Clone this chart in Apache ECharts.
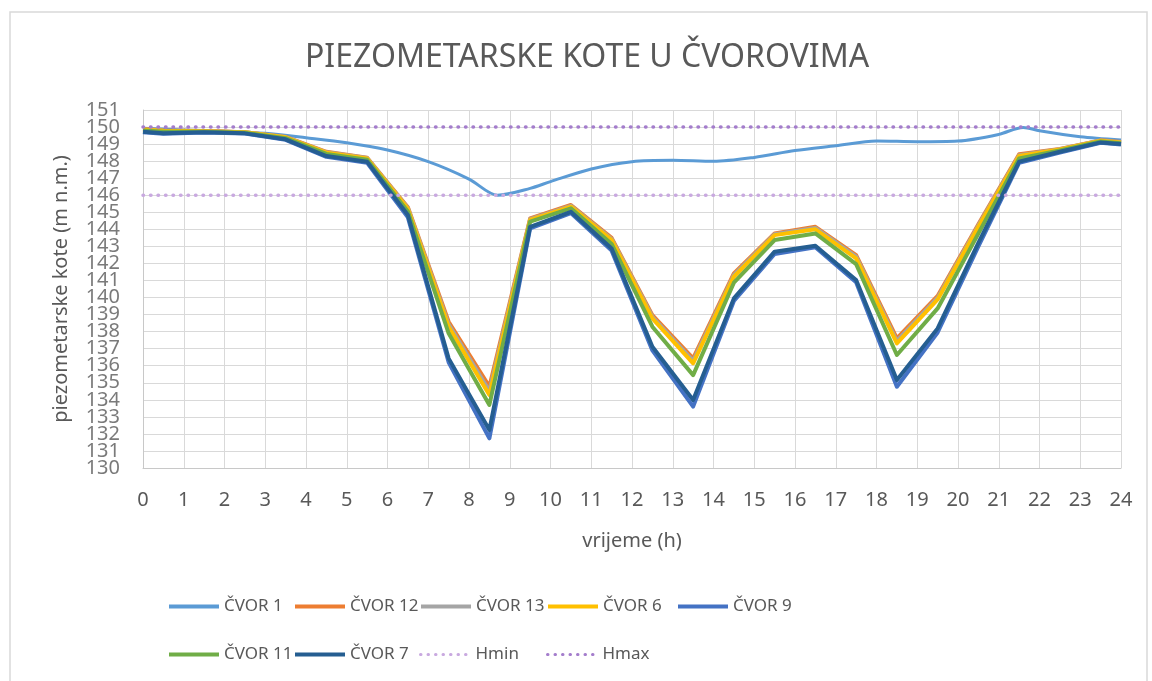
<!DOCTYPE html>
<html>
<head>
<meta charset="utf-8">
<title>Piezometarske kote</title>
<script src="https://cdn.jsdelivr.net/npm/echarts@6/dist/echarts.min.js"></script>
<style>
  html, body { margin: 0; padding: 0; background: #fff; }
  #chart { width: 1152px; height: 681px; }
</style>
</head>
<body>
<div id="chart"></div>
<script>
// vrijeme (h) za čvorove
var hours = [0, 0.5, 1.5, 2.5, 3.5, 4.5, 5.5, 6.5, 7.5, 8.5, 9.5, 10.5, 11.5, 12.5,
  13.5, 14.5, 15.5, 16.5, 17.5, 18.5, 19.5, 20.5, 21.5, 22.5, 23.5, 24]
// ČVOR 1 ima svoje točke
var hours1 = [0, 1, 2, 3, 4, 5, 6, 7, 8, 8.7, 9.5, 10, 11, 12, 13, 14, 15, 16, 17,
  18, 19, 20, 21, 21.6, 22, 23, 24]
var cvor1 = [149.93, 149.82, 149.76, 149.63, 149.37, 149.08, 148.65, 147.97, 146.95, 146.0,
  146.4, 146.8, 147.54, 147.97, 148.05, 147.99, 148.22, 148.62, 148.9, 149.18, 149.14,
  149.18, 149.57, 149.98, 149.78, 149.43, 149.24]
var cvor12 = [149.88, 149.8, 149.77, 149.7, 149.42, 148.55, 148.2, 145.3, 138.58, 134.77,
  144.64, 145.43, 143.5, 138.97, 136.43, 141.42, 143.76, 144.15, 142.49, 137.6, 140.09,
  144.3, 148.4, 148.72, 149.22, 149.12]
var cvor13 = [149.86, 149.79, 149.76, 149.7, 149.41, 148.52, 148.18, 145.25, 138.43, 134.52,
  144.6, 145.38, 143.43, 138.87, 136.28, 141.32, 143.71, 144.08, 142.4, 137.45, 139.99,
  144.22, 148.35, 148.7, 149.21, 149.11]
var cvor6 = [149.85, 149.78, 149.75, 149.69, 149.4, 148.5, 148.15, 145.2, 138.29, 134.28,
  144.55, 145.33, 143.37, 138.78, 136.14, 141.22, 143.66, 144.0, 142.3, 137.31, 139.89,
  144.15, 148.3, 148.69, 149.2, 149.1]
var cvor9 = [149.7, 149.6, 149.68, 149.62, 149.25, 148.25, 147.9, 144.7, 136.2, 131.74,
  144.05, 144.95, 142.75, 136.9, 133.6, 139.8, 142.55, 142.95, 140.9, 134.77, 137.95,
  143.0, 147.9, 148.5, 149.08, 148.98]
var cvor11 = [149.8, 149.72, 149.72, 149.66, 149.35, 148.42, 148.08, 145.05, 137.9, 133.7,
  144.45, 145.23, 143.14, 138.29, 135.45, 140.87, 143.37, 143.76, 141.96, 136.63, 139.36,
  143.76, 148.16, 148.63, 149.15, 149.05]
var cvor7 = [149.73, 149.63, 149.69, 149.63, 149.28, 148.3, 147.97, 144.84, 136.43, 132.23,
  144.15, 145.03, 142.88, 137.11, 133.99, 139.95, 142.69, 143.04, 141.03, 135.16, 138.19,
  143.2, 147.97, 148.55, 149.1, 149.0]
var hmin = 146
var hmax = 150
// oznake osi y (echarts skriva susjedne oznake kad se preklapaju, pa ih crtamo same)
var yTicks = [130, 131, 132, 133, 134, 135, 136, 137, 138, 139, 140,
  141, 142, 143, 144, 145, 146, 147, 148, 149, 150, 151]

var names = ['ČVOR 1', 'ČVOR 12', 'ČVOR 13', 'ČVOR 6', 'ČVOR 9', 'ČVOR 11', 'ČVOR 7', 'Hmin', 'Hmax']
var colors = ['#5B9BD5', '#ED7D31', '#A5A5A5', '#FFC000', '#4472C4', '#70AD47', '#255E91', '#C9A9E0', '#A47DCC']

var textColor = '#595959'
var font = 'Noto Sans'

function pairs(xs, ys) {
  return xs.map(function(x, i) {
    return [x, ys[i]]
  })
}

function nodeSeries(name, xs, ys, width, smooth) {
  var c = colors[names.indexOf(name)]
  return {
    name: name,
    type: 'line',
    data: pairs(xs, ys),
    symbol: 'none',
    smooth: smooth || false,
    color: c,
    lineStyle: { color: c, width: width, join: 'round' },
    animation: false
  }
}

function limitSeries(name, value) {
  var c = colors[names.indexOf(name)]
  return {
    name: name,
    type: 'line',
    data: [[0, value], [24, value]],
    symbol: 'none',
    color: c,
    lineStyle: { color: c, width: 3.5, type: [0.5, 7], cap: 'round' },
    animation: false
  }
}

// legenda u dva reda, svaka stavka posebno
var legendPos = [
  [167, 598], [293, 598], [419, 598], [546, 598], [676, 598],
  [167, 646], [293, 646], [419, 646], [546, 646]
]
var legends = names.map(function(n, i) {
  var dotted = n === 'Hmin' || n === 'Hmax'
  return {
    data: [n],
    left: legendPos[i][0],
    top: legendPos[i][1],
    padding: 0,
    itemWidth: 50,
    itemHeight: 14,
    selectedMode: false,
    itemStyle: { opacity: 0 },
    lineStyle: { width: dotted ? 3 : 4 },
    textStyle: { color: textColor, fontSize: 17, fontFamily: font }
  }
})

var chart = echarts.init(document.getElementById('chart'))
chart.setOption({
  backgroundColor: '#fff',
  animation: false,
  title: {
    text: 'PIEZOMETARSKE KOTE U ČVOROVIMA',
    left: 300,
    top: 37,
    textStyle: { color: textColor, fontSize: 32, fontWeight: 'normal', fontFamily: font }
  },
  graphic: [{
    type: 'rect',
    shape: { x: 10, y: 12, width: 1137, height: 700 },
    style: { fill: 'none', stroke: '#D9D9D9', lineWidth: 1.5 },
    silent: true
  }],
  legend: legends,
  grid: { left: 143, right: 31, top: 110, bottom: 213 },
  xAxis: {
    type: 'value',
    min: 0,
    max: 24,
    interval: 1,
    name: 'vrijeme (h)',
    nameLocation: 'middle',
    nameGap: 63,
    nameTextStyle: { color: textColor, fontSize: 20, fontFamily: font },
    axisLine: { lineStyle: { color: '#C8C8C8' } },
    axisTick: { show: false },
    axisLabel: { color: textColor, fontSize: 20, fontFamily: font, margin: 22 },
    splitLine: { show: true, lineStyle: { color: '#D9D9D9' } }
  },
  yAxis: {
    type: 'value',
    min: 130,
    max: 151,
    interval: 1,
    name: 'piezometarske kote (m n.m.)',
    nameLocation: 'middle',
    nameGap: 72,
    nameTextStyle: { color: textColor, fontSize: 20, fontFamily: font },
    axisLine: { show: true, lineStyle: { color: '#C8C8C8' } },
    axisTick: { show: false },
    axisLabel: { show: false },
    splitLine: { show: true, lineStyle: { color: '#D9D9D9' } }
  },
  series: [
    nodeSeries('ČVOR 1', hours1, cvor1, 3, 0.3),
    nodeSeries('ČVOR 12', hours, cvor12, 4),
    nodeSeries('ČVOR 13', hours, cvor13, 4),
    nodeSeries('ČVOR 6', hours, cvor6, 4),
    nodeSeries('ČVOR 9', hours, cvor9, 4),
    nodeSeries('ČVOR 11', hours, cvor11, 4),
    nodeSeries('ČVOR 7', hours, cvor7, 4),
    limitSeries('Hmin', hmin),
    limitSeries('Hmax', hmax),
    {
      name: 'yTicks',
      type: 'scatter',
      data: yTicks.map(function(v) { return [0, v] }),
      symbolSize: 0,
      clip: false,
      silent: true,
      animation: false,
      label: {
        show: true,
        position: 'left',
        distance: 23,
        formatter: function(p) { return String(p.value[1]) },
        color: textColor,
        fontSize: 20,
        fontFamily: font
      }
    }
  ]
})
</script>
</body>
</html>
